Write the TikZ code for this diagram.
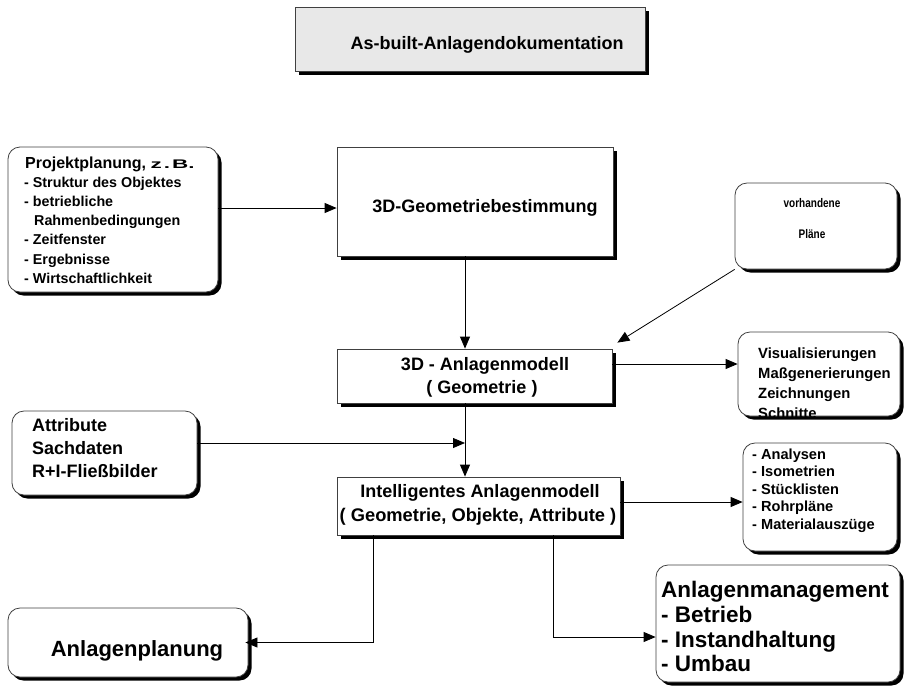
\documentclass[tikz,border=0pt]{standalone}
\usepackage{fontspec}
\setmainfont{Liberation Sans}
\newfontfamily\widefont[FakeStretch=1.8]{Liberation Sans}
\newfontfamily\narrowfont[FakeStretch=0.8]{Liberation Sans}
\usetikzlibrary{arrows.meta,shadows}
\begin{document}
\begin{tikzpicture}[x=1pt,y=-1pt,
  box/.style={draw=black!75, line width=0.8pt, fill=white, inner sep=0pt,
    general shadow={fill=black, shadow xshift=3.5pt, shadow yshift=-3.5pt}},
  rbox/.style={box, rounded corners=12pt},
  arr/.style={draw=black, line width=0.8pt, -{Triangle[length=12pt,width=10pt]}},
  txt/.style={inner sep=0pt, font=\bfseries},
  tl/.style={txt, anchor=base west},
  tc/.style={txt, anchor=base},
]
\useasboundingbox (0,0) rectangle (907,686);
% boxes
\node[box, fill=black!9, minimum width=350pt, minimum height=64pt] (title) at (470,39) {};
\node[rbox, minimum width=210pt, minimum height=145pt] (proj) at (113,219.5) {};
\node[box, minimum width=276pt, minimum height=109pt] (geo) at (475,201.5) {};
\node[rbox, minimum width=162pt, minimum height=86pt] (plaene) at (816,226) {};
\node[box, minimum width=275pt, minimum height=54pt] (modell) at (474.5,376) {};
\node[rbox, minimum width=162pt, minimum height=84pt] (vis) at (819,374) {};
\node[rbox, minimum width=185pt, minimum height=84pt] (attr) at (104.5,453) {};
\node[box, minimum width=283pt, minimum height=58pt] (intel) at (478.5,506) {};
\node[rbox, minimum width=154pt, minimum height=108pt] (anal) at (820,497) {};
\node[rbox, minimum width=240pt, minimum height=69pt] (aplan) at (128,642.5) {};
\node[rbox, minimum width=244pt, minimum height=117pt] (amgmt) at (778,623.5) {};
% texts
\node[tc, font=\bfseries\fontsize{18}{20}\selectfont] (ttitle) at (487,49) {As-built-Anlagendokumentation};
\node[tl, font=\bfseries\fontsize{16}{18}\selectfont] (p1) at (25,168) {Projektplanung, {\widefont\bfseries\fontsize{12.5}{14}\selectfont z\kern2pt.\kern2pt B.}};
\node[tl, font=\bfseries\fontsize{14.3}{16}\selectfont] (p2) at (24,187.5) {- Struktur des Objektes};
\node[tl, font=\bfseries\fontsize{14.3}{16}\selectfont] (p3) at (24,206.5) {- betriebliche};
\node[tl, font=\bfseries\fontsize{14.3}{16}\selectfont] (p4) at (34,225.5) {Rahmenbedingungen};
\node[tl, font=\bfseries\fontsize{14.3}{16}\selectfont] (p5) at (24,244.5) {- Zeitfenster};
\node[tl, font=\bfseries\fontsize{14.3}{16}\selectfont] (p6) at (24,264) {- Ergebnisse};
\node[tl, font=\bfseries\fontsize{14.3}{16}\selectfont] (p7) at (24,283) {- Wirtschaftlichkeit};
\node[tc, font=\bfseries\fontsize{18}{20}\selectfont] (tgeo) at (485,212) {3D-Geometriebestimmung};
\node[tc, font=\narrowfont\bfseries\fontsize{12.5}{14}\selectfont] (tpl1) at (812,207) {vorhandene};
\node[tc, font=\narrowfont\bfseries\fontsize{12.5}{14}\selectfont] (tpl2) at (812,238) {Pläne};
\node[tc, font=\bfseries\fontsize{18}{20}\selectfont] (tm1) at (485,370) {3D - Anlagenmodell};
\node[tc, font=\bfseries\fontsize{18}{20}\selectfont] (tm2) at (482,393) {( Geometrie )};
\node[tl, font=\bfseries\fontsize{14.8}{16}\selectfont] (v1) at (758,358) {Visualisierungen};
\node[tl, font=\bfseries\fontsize{14.8}{16}\selectfont] (v2) at (758,378) {Maßgenerierungen};
\node[tl, font=\bfseries\fontsize{14.8}{16}\selectfont] (v3) at (758,398) {Zeichnungen};
\node[tl, font=\bfseries\fontsize{14.8}{16}\selectfont] (v4) at (758,418) {Schnitte};
\node[tl, font=\bfseries\fontsize{18}{20}\selectfont] (a1) at (32,431) {Attribute};
\node[tl, font=\bfseries\fontsize{18}{20}\selectfont] (a2) at (32,454) {Sachdaten};
\node[tl, font=\bfseries\fontsize{18}{20}\selectfont] (a3) at (32,477) {R+I-Fließbilder};
\node[tc, font=\bfseries\fontsize{18}{20}\selectfont] (i1) at (480,497) {Intelligentes Anlagenmodell};
\node[tc, font=\bfseries\fontsize{18.3}{20}\selectfont] (i2) at (478,521) {( Geometrie, Objekte, Attribute )};
\node[tl, font=\bfseries\fontsize{14.6}{16}\selectfont] (n1) at (752,459) {- Analysen};
\node[tl, font=\bfseries\fontsize{14.6}{16}\selectfont] (n2) at (752,476.5) {- Isometrien};
\node[tl, font=\bfseries\fontsize{14.6}{16}\selectfont] (n3) at (752,494) {- Stücklisten};
\node[tl, font=\bfseries\fontsize{14.6}{16}\selectfont] (n4) at (752,511.5) {- Rohrpläne};
\node[tl, font=\bfseries\fontsize{14.6}{16}\selectfont] (n5) at (752,529) {- Materialauszüge};
\node[tc, font=\bfseries\fontsize{22}{24}\selectfont] (tap) at (137,656) {Anlagenplanung};
\node[tl, font=\bfseries\fontsize{22.5}{24}\selectfont] (m1) at (661,597) {Anlagenmanagement};
\node[tl, font=\bfseries\fontsize{22.5}{24}\selectfont] (m2) at (661,622) {- Betrieb};
\node[tl, font=\bfseries\fontsize{22.5}{24}\selectfont] (m3) at (661,647) {- Instandhaltung};
\node[tl, font=\bfseries\fontsize{22.5}{24}\selectfont] (m4) at (661,671) {- Umbau};
% connectors
\coordinate (j1) at (465,443);
\draw[arr] (proj.east |- 0,208) -- (geo.west |- 0,208);
\draw[arr] (geo.south -| 465,0) -- (modell.north -| 465,0);
\draw[arr] (plaene.south west) -- ([xshift=5pt,yshift=6pt]modell.north east);
\draw[arr] (modell.east |- 0,364) -- (vis.west |- 0,364);
\draw[arr] (attr.east |- j1) -- (j1);
\draw[arr] (modell.south -| 465,0) -- (intel.north -| 465,0);
\draw[arr] (intel.east |- 0,502) -- (anal.west |- 0,502);
\draw[arr, shorten >=-3pt] (intel.south -| 373,0) |- (aplan.east);
\draw[arr] (intel.south -| 553,0) |- (amgmt.west |- 0,637);
\end{tikzpicture}
\end{document}
